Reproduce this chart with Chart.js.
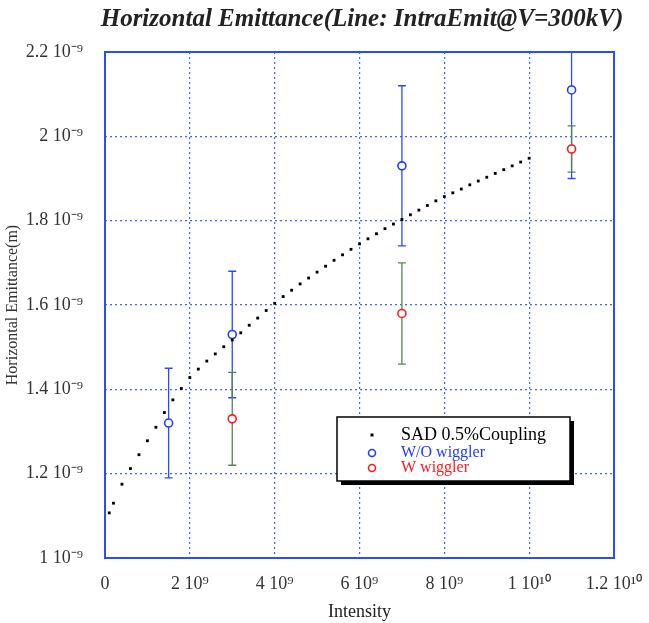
<!DOCTYPE html>
<html>
<head>
<meta charset="utf-8">
<script src="https://cdn.jsdelivr.net/npm/chart.js@4"></script>
<style>
  body { margin: 0; background: #fff; }
  #wrap { width: 649px; height: 623px; }
</style>
</head>
<body>
<div id="wrap"><canvas id="emitChart" width="649" height="623"></canvas></div>
<script>
// intensity in units of 10^9, emittance in units of 10^-9 m
const sadIntensity = [0.1, 0.2, 0.4, 0.6, 0.8, 1.0, 1.2, 1.4, 1.6, 1.8, 2.0, 2.2, 2.4, 2.6, 2.8, 3.0,
  3.2, 3.4, 3.6, 3.8, 4.0, 4.2, 4.4, 4.6, 4.8, 5.0, 5.2, 5.4, 5.6, 5.8, 6.0, 6.2, 6.4, 6.6, 6.8, 7.0,
  7.2, 7.4, 7.6, 7.8, 8.0, 8.2, 8.4, 8.6, 8.8, 9.0, 9.2, 9.4, 9.6, 9.8, 10.0];
const sadEmit = [1.107, 1.13, 1.175, 1.212, 1.245, 1.278, 1.31, 1.345, 1.375, 1.402, 1.428, 1.448, 1.467, 1.484, 1.501, 1.517,
  1.534, 1.552, 1.569, 1.587, 1.604, 1.62, 1.635, 1.65, 1.664, 1.678, 1.692, 1.706, 1.719, 1.732, 1.745, 1.757, 1.769, 1.781, 1.792, 1.803,
  1.814, 1.825, 1.836, 1.847, 1.857, 1.866, 1.875, 1.885, 1.894, 1.903, 1.912, 1.921, 1.93, 1.939, 1.948];

const woIntensity = [1.5, 3, 7, 11];
const woEmit = [1.32, 1.53, 1.93, 2.11];
const woErr = [0.13, 0.15, 0.19, 0.21];

const wIntensity = [3, 7, 11];
const wEmit = [1.33, 1.58, 1.97];
const wErr = [0.11, 0.12, 0.055];

const xTicks = [0, 2, 4, 6, 8, 10, 12];
const yTicks = [1, 1.2, 1.4, 1.6, 1.8, 2, 2.2];

const legendLabels = ["SAD 0.5%Coupling", "W/O wiggler", "W wiggler"];
const chartTitle = "Horizontal Emittance(Line: IntraEmit@V=300kV)";

const serif = "'Liberation Serif', 'Times New Roman', serif";
const gridBlue = "rgba(40, 70, 255, 0.85)";

function xLabel(v) {
  if (v === 0) return "0";
  if (v >= 10) return (Math.round(v) / 10) + " 10\u00B9\u2070";
  return v + " 10\u2079";
}
function yLabel(v) {
  return (Math.round(v * 10) / 10) + " 10\u207B\u2079";
}

// error bars drawn through the chart scales
const errorBars = {
  id: "errorBars",
  beforeDatasetsDraw(chart) {
    const ctx = chart.ctx;
    const xs = chart.scales.x, ys = chart.scales.y;
    const area = chart.chartArea;
    ctx.save();
    ctx.beginPath();
    ctx.rect(area.left, area.top, area.right - area.left, area.bottom - area.top);
    ctx.clip();
    const sets = [
      { x: woIntensity, y: woEmit, e: woErr, color: "#2a4cff" },
      { x: wIntensity, y: wEmit, e: wErr, color: "#4f8a4f" }
    ];
    sets.forEach(s => {
      ctx.strokeStyle = s.color;
      ctx.lineWidth = 1.3;
      s.x.forEach((xv, i) => {
        const px = xs.getPixelForValue(xv);
        const top = ys.getPixelForValue(s.y[i] + s.e[i]);
        const bot = ys.getPixelForValue(s.y[i] - s.e[i]);
        ctx.beginPath();
        ctx.moveTo(px, top); ctx.lineTo(px, bot);
        ctx.moveTo(px - 4, top); ctx.lineTo(px + 4, top);
        ctx.moveTo(px - 4, bot); ctx.lineTo(px + 4, bot);
        ctx.stroke();
      });
    });
    ctx.restore();
  }
};

// title, box around plot, legend box with shadow
const frameAndLegend = {
  id: "frameAndLegend",
  afterDraw(chart) {
    const ctx = chart.ctx;
    const a = chart.chartArea;
    ctx.save();
    ctx.fillStyle = "#222";
    ctx.font = "italic bold 25px " + serif;
    ctx.textAlign = "center";
    ctx.textBaseline = "middle";
    ctx.fillText(chartTitle, 362, 20);
    ctx.textAlign = "left";

    ctx.strokeStyle = "#2a4cff";
    ctx.lineWidth = 2;
    ctx.strokeRect(a.left, a.top, a.right - a.left, a.bottom - a.top);

    const bx = a.left + 232, by = a.top + 365, bw = 233, bh = 64;
    ctx.fillStyle = "#000";
    ctx.fillRect(bx + 4, by + 4, bw, bh);
    ctx.fillStyle = "#fff";
    ctx.fillRect(bx, by, bw, bh);
    ctx.strokeStyle = "#000";
    ctx.lineWidth = 1.5;
    ctx.strokeRect(bx, by, bw, bh);

    const colors = ["#000", "#1f3cff", "#ff1a1a"];
    const rows = [by + 18, by + 36, by + 51];
    const fonts = ["18px " + serif, "16px " + serif, "16px " + serif];
    legendLabels.forEach((t, i) => {
      const mx = bx + 35;
      if (i === 0) {
        ctx.fillStyle = "#000";
        ctx.fillRect(mx - 1.5, rows[i] - 1.5, 3, 3);
      } else {
        ctx.strokeStyle = colors[i];
        ctx.lineWidth = 1.6;
        ctx.beginPath();
        ctx.arc(mx, rows[i], 3.5, 0, Math.PI * 2);
        ctx.stroke();
      }
      ctx.fillStyle = colors[i];
      ctx.font = fonts[i];
      ctx.fillText(t, bx + 64, rows[i]);
    });
    ctx.restore();
  }
};

const ctx = document.getElementById("emitChart").getContext("2d");
new Chart(ctx, {
  type: "scatter",
  data: {
    datasets: [
      {
        label: legendLabels[0],
        data: sadIntensity.map((x, i) => ({ x: x, y: sadEmit[i] })),
        pointStyle: "rect",
        pointRadius: 2,
        backgroundColor: "#000",
        borderColor: "#000",
        borderWidth: 0
      },
      {
        label: legendLabels[1],
        data: woIntensity.map((x, i) => ({ x: x, y: woEmit[i] })),
        pointStyle: "circle",
        pointRadius: 4,
        backgroundColor: "#fff",
        borderColor: "#1f3cff",
        borderWidth: 1.6
      },
      {
        label: legendLabels[2],
        data: wIntensity.map((x, i) => ({ x: x, y: wEmit[i] })),
        pointStyle: "circle",
        pointRadius: 4,
        backgroundColor: "#fff",
        borderColor: "#ff1a1a",
        borderWidth: 1.6
      }
    ]
  },
  options: {
    responsive: false,
    animation: false,
    layout: { padding: { left: 0, right: 35, top: 52, bottom: 0 } },
    plugins: {
      legend: { display: false },
      tooltip: { enabled: false },
      title: { display: false }
    },
    scales: {
      x: {
        type: "linear",
        min: 0,
        max: 12,
        afterBuildTicks: s => { s.ticks = xTicks.map(v => ({ value: v })); },
        afterFit: s => { s.height = 65; s.paddingLeft = 0; s.paddingRight = 0; },
        grid: { color: gridBlue, lineWidth: 1.2, drawTicks: false },
        border: { display: false, dash: [2, 3] },
        ticks: {
          callback: v => xLabel(v),
          color: "#333",
          padding: 15,
          maxRotation: 0,
          font: { family: serif, size: 18 }
        },
        title: {
          display: true,
          text: "Intensity",
          color: "#222",
          font: { family: serif, size: 18 },
          padding: { top: 2, bottom: 0 }
        }
      },
      y: {
        type: "linear",
        min: 1,
        max: 2.2,
        afterBuildTicks: s => { s.ticks = yTicks.map(v => ({ value: v })); },
        afterFit: s => { s.width = 105; s.paddingTop = 0; s.paddingBottom = 0; },
        grid: { color: gridBlue, lineWidth: 1.2, drawTicks: false },
        border: { display: false, dash: [2, 3] },
        ticks: {
          callback: v => yLabel(v),
          color: "#333",
          padding: 22,
          font: { family: serif, size: 18 }
        },
        title: {
          display: true,
          text: "Horizontal Emittance(m)",
          color: "#333",
          font: { family: serif, size: 16 },
          padding: { top: 3, bottom: 0 }
        }
      }
    }
  },
  plugins: [errorBars, frameAndLegend]
});
</script>
</body>
</html>
